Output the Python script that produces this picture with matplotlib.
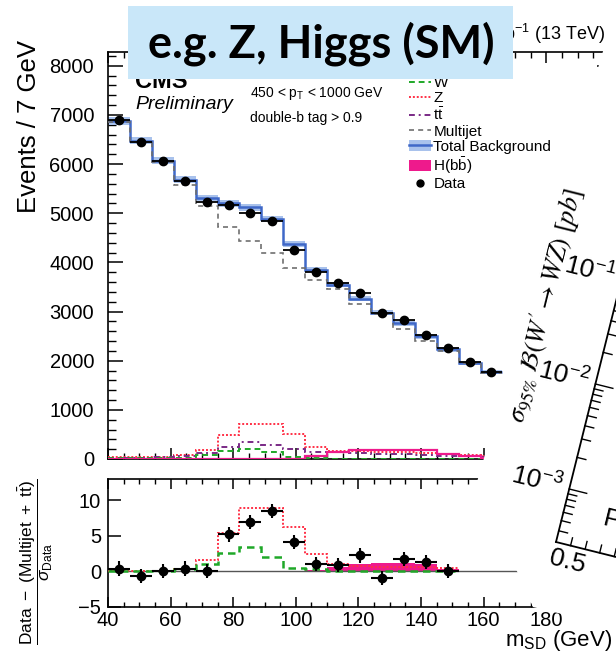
import numpy as np
import matplotlib
matplotlib.use("Agg")
import matplotlib.pyplot as plt
from matplotlib.lines import Line2D
from matplotlib.patches import Patch, Polygon, Rectangle
from matplotlib.ticker import MultipleLocator

plt.rcParams['font.family'] = ['Liberation Sans', 'DejaVu Sans']
plt.rcParams['mathtext.fontset'] = 'custom'
plt.rcParams['mathtext.rm'] = 'Liberation Sans'
plt.rcParams['mathtext.it'] = 'Liberation Sans:italic'
plt.rcParams['mathtext.bf'] = 'Liberation Sans:bold'

# ---------------- data ----------------
bin_width = 7.0
x_lo = 40.0
x_hi = 201.0

data_upper = [6900, 6440, 6065, 5665, 5220, 5165, 5005, 4850, 4260, 3800,
              3585, 3380, 2975, 2825, 2530, 2250, 1975, 1770]
total_bkg = [6875, 6475, 6070, 5680, 5310, 5205, 5125, 4880, 4375, 3855,
             3550, 3260, 2975, 2760, 2500, 2230, 1960, 1770]
total_unc = [80, 75, 70, 70, 70, 70, 70, 65, 65, 60,
             55, 55, 50, 50, 50, 45, 40, 40]
multijet = [6850, 6455, 6045, 5580, 5140, 4720, 4430, 4195, 3890, 3640,
            3450, 3145, 2945, 2640, 2400, 2200, 1945, 1750]
w_upper = [15, 15, 20, 25, 80, 160, 200, 150, 40, 15,
           10, 10, 10, 10, 10, 10, 10, 10]
z_upper = [40, 40, 50, 90, 190, 480, 720, 720, 500, 240,
           170, 160, 150, 140, 130, 100, 80, 70]
tt_upper = [30, 30, 40, 60, 120, 250, 350, 280, 200, 150,
            140, 130, 110, 100, 90, 70, 60, 50]
h_upper = [0, 0, 0, 0, 0, 0, 0, 0, 10, 60,
           150, 185, 190, 190, 175, 110, 60, 30]

data_ratio = [0.4, -0.6, 0.1, 0.4, 0.1, 5.2, 7.0, 8.5, 4.1, 1.0,
              0.95, 2.25, -0.95, 1.8, 1.3, 0.1]
z_ratio = [0.1, 0.1, 0.1, 0.4, 1.65, 5.4, 8.9, 8.9, 6.2, 2.4,
           1.0, 0.7, 0.6, 0.6, 0.6, 0.5]
w_ratio = [0.1, 0.1, 0.1, 0.3, 1.0, 2.6, 3.5, 2.0, 0.5, 0.3,
           0.1, 0.1, 0.1, 0.1, 0.1, 0.1]
h_ratio = [0, 0, 0, 0, 0, 0, 0, 0, 0.05, 0.25,
           0.6, 1.1, 1.2, 1.15, 1.0, 0.4]

upper_ticks = [0, 1000, 2000, 3000, 4000, 5000, 6000, 7000, 8000]
ratio_ticks = [-5, 0, 5, 10]
mass_ticks = [40, 60, 80, 100, 120, 140, 160, 180]

legend_labels = ["W", "Z", r"t$\mathrm{\bar{t}}$", "Multijet",
                 "Total Background", r"H(b$\mathrm{\bar{b}}$)", "Data"]

# other (rotated) plot decoration
rot_major = [1e-3, 1e-2, 1e-1]
rot_major_labels = [r"$10^{-3}$", r"$10^{-2}$", r"$10^{-1}$"]
rot_minor = [k * 10.0 ** e for e in (-4, -3, -2) for k in range(2, 10)]
rot_x_minor = [0.6, 0.7, 0.8, 0.9]

# ---------------- colours ----------------
c_w = '#1fa828'
c_z = '#ff3046'
c_tt = '#7a2a86'
c_mj = '#6f6f6f'
c_tot = '#3f68c8'
c_band = '#a9c2ec'
c_h = '#ee1a8c'

W, H = 616, 663
fig = plt.figure(figsize=(W / 100, H / 100), dpi=100)
fig.patch.set_facecolor('white')


def fx(px):
    return px / W


def fy(py):
    return 1 - py / H


ax1 = fig.add_axes([fx(108), fy(459), fx(612) - fx(108), fy(52) - fy(459)])
ax2 = fig.add_axes([fx(108), fy(607), fx(612) - fx(108), fy(479) - fy(607)])

n_up = len(data_upper)
edges_up = x_lo + bin_width * np.arange(n_up + 1)
cent_up = edges_up[:-1] + bin_width / 2
n_lo = len(data_ratio)
edges_lo = x_lo + bin_width * np.arange(n_lo + 1)
cent_lo = edges_lo[:-1] + bin_width / 2

tot = np.array(total_bkg, float)
unc = np.array(total_unc, float)

# ---- upper panel ----
ax1.stairs(tot + unc, edges_up, baseline=tot - unc, fill=True, color=c_band, lw=0, zorder=2)
ax1.stairs(tot, edges_up, color=c_tot, lw=1.8, zorder=3, baseline=None)
ax1.stairs(multijet, edges_up, color=c_mj, lw=1.2, ls=(0, (3, 2.5)), zorder=3, baseline=None)
ax1.stairs(z_upper, edges_up, color=c_z, lw=1.4, ls=(0, (1, 1)), zorder=3, baseline=None)
ax1.stairs(tt_upper, edges_up, color=c_tt, lw=1.4, ls=(0, (3, 2, 1, 2)), zorder=3, baseline=None)
ax1.stairs(w_upper, edges_up, color=c_w, lw=1.4, ls=(0, (3, 2)), zorder=3, baseline=None)
ax1.stairs(h_upper, edges_up, color=c_h, lw=1.6, zorder=3, baseline=None)
ax1.errorbar(cent_up, data_upper, yerr=np.sqrt(data_upper), xerr=bin_width / 2,
             fmt='o', color='black', ms=6, elinewidth=1.3, capsize=0, zorder=5)

ax1.set_xlim(x_lo, x_hi)
ax1.set_ylim(0, 8280)
ax1.set_yticks(upper_ticks)
ax1.yaxis.set_minor_locator(MultipleLocator(200))
ax1.set_xticks(mass_ticks)
ax1.xaxis.set_minor_locator(MultipleLocator(5))
ax1.tick_params(axis='both', which='both', direction='in', top=True, right=True,
                labelbottom=False)
ax1.tick_params(axis='y', which='major', length=10.5, width=1.1, labelsize=14.5, pad=10)
ax1.tick_params(axis='y', which='minor', length=5.5, width=1.0)
ax1.tick_params(axis='x', which='major', length=8, width=1.1)
ax1.tick_params(axis='x', which='minor', length=4, width=1.0)
for s in ax1.spines.values():
    s.set_linewidth(1.2)

# legend
handles = [
    Line2D([], [], color=c_w, lw=1.4, ls=(0, (3, 2))),
    Line2D([], [], color=c_z, lw=1.4, ls=(0, (1, 1))),
    Line2D([], [], color=c_tt, lw=1.4, ls=(0, (3, 2, 1, 2))),
    Line2D([], [], color=c_mj, lw=1.2, ls=(0, (3, 2.5))),
    (Patch(facecolor=c_band, edgecolor='none'), Line2D([], [], color=c_tot, lw=1.8)),
    Patch(facecolor=c_h, edgecolor='none'),
    Line2D([], [], color='black', marker='o', ms=5, ls='none'),
]
ax1.legend(handles, legend_labels, loc='upper left',
           bbox_to_anchor=(fx(409), fy(76)), bbox_transform=fig.transFigure,
           frameon=False, fontsize=11, handlelength=1.45, handletextpad=0.15,
           labelspacing=0.08, borderpad=0, borderaxespad=0)

# ---- lower panel ----
ax2.stairs(h_ratio, edges_lo, fill=True, color=c_h, lw=0, zorder=2)
ax2.axhline(0, color='#555555', lw=1.0, zorder=2)
ax2.stairs(z_ratio, edges_lo, color=c_z, lw=1.4, ls=(0, (1, 1)), zorder=3, baseline=None)
ax2.stairs(w_ratio, edges_lo, color=c_w, lw=1.8, ls=(0, (3, 2)), zorder=3, baseline=None)
ax2.errorbar(cent_lo, data_ratio, yerr=1.0, xerr=bin_width / 2,
             fmt='o', color='black', ms=6, elinewidth=1.5, capsize=0, zorder=5)
ax2.set_xlim(x_lo, x_hi)
ax2.set_ylim(-5, 13)
ax2.set_yticks(ratio_ticks)
ax2.set_yticklabels(['\u22125', '0', '5', '10'])
ax2.set_xticks(mass_ticks)
ax2.xaxis.set_minor_locator(MultipleLocator(5))
ax2.tick_params(axis='both', which='both', direction='in', top=True, right=True)
ax2.tick_params(axis='y', which='major', length=9, width=1.1, labelsize=14.5, pad=5)
ax2.tick_params(axis='x', which='major', length=7, width=1.1, labelsize=14.5, pad=3)
ax2.tick_params(axis='x', which='minor', length=3.5, width=1.0)
for s in ax2.spines.values():
    s.set_linewidth(1.2)

# ---------------- overlay (slide elements) ----------------
ov = fig.add_axes([0, 0, 1, 1])
ov.set_xlim(0, W)
ov.set_ylim(H, 0)
ov.axis('off')
ov.set_zorder(10)
ov.patch.set_alpha(0)

# CMS texts
ov.text(135, 88, "CMS", fontsize=17, fontweight='bold', va='baseline', ha='left', zorder=1)
ov.text(135, 109, "Preliminary", fontsize=14, fontstyle='italic', va='baseline', ha='left', zorder=1)
ov.text(250, 97, r"450 < p$_\mathrm{T}$ < 1000 GeV", fontsize=10, va='baseline', ha='left', zorder=1)
ov.text(250, 122, "double-b tag > 0.9", fontsize=10, va='baseline', ha='left', zorder=1)
ov.text(605, 40, r"35.9 fb$^{-1}$ (13 TeV)", fontsize=13, va='baseline', ha='right', zorder=1)
ov.text(29, 40, "Events / 7 GeV", fontsize=18.5, rotation=90, ha='center', va='top', zorder=1)
ov.text(36, 562, r"$\dfrac{\mathrm{Data\ -\ (Multijet\ +\ t\bar{t})}}{\sigma_{\mathrm{Data}}}$",
        fontsize=12.5, rotation=90, ha='center', va='center', zorder=1)

# white page of the second (rotated) plot
ov.add_patch(Polygon([(618, 0), (620, 0), (620, 628), (533, 607), (477, 482)],
                     closed=True, facecolor='white', edgecolor='none', zorder=2))

ang = np.deg2rad(14)
tn = np.tan(ang)
nvec = np.array([np.cos(ang), np.sin(ang)])
uvec = np.array([np.sin(ang), -np.cos(ang)])
corner = np.array([556.0, 542.0])


def spine_pt(v):
    y = 489 - (np.log10(v) + 3) * 105
    return np.array([corner[0] + tn * (corner[1] - y), y])


top_pt = np.array([corner[0] + tn * (corner[1] - 250), 250])
ov.plot([corner[0], top_pt[0]], [corner[1], top_pt[1]], color='black', lw=1.3, zorder=3)
bot_end = corner + 80 * nvec
ov.plot([corner[0], bot_end[0]], [corner[1], bot_end[1]], color='black', lw=1.3, zorder=3)
for v in rot_minor:
    p = spine_pt(v)
    if 262 < p[1] < corner[1] - 2:
        q = p + 9 * nvec
        ov.plot([p[0], q[0]], [p[1], q[1]], color='black', lw=1.0, zorder=3)
for v, lab in zip(rot_major, rot_major_labels):
    p = spine_pt(v)
    q = p + 18 * nvec
    ov.plot([p[0], q[0]], [p[1], q[1]], color='black', lw=1.0, zorder=3)
    lp = p - 33 * nvec
    ov.text(lp[0], lp[1], lab, fontsize=19, rotation=-14, ha='center', va='center', zorder=3)
for xv in rot_x_minor:
    p = corner + (xv - 0.5) * 150 * nvec
    q = p + 8 * uvec
    ov.plot([p[0], q[0]], [p[1], q[1]], color='black', lw=1.0, zorder=3)
ov.text(567, 562, "0.5", fontsize=19, rotation=-14, ha='center', va='center', zorder=3)
ov.text(612, 520, "P", fontsize=19, rotation=-14, ha='center', va='center', zorder=3)
ov.text(546, 306, r"$\sigma_{95\%}\ \mathcal{B}(W' \rightarrow WZ)\ [pb]$", fontsize=19,
        rotation=76, ha='center', va='center', zorder=3, math_fontfamily='stix')

# x-axis title of the CMS plot
ov.text(612, 646, r"m$_\mathrm{SD}$ (GeV)", fontsize=16, ha='right', va='baseline', zorder=4)

# slide label box
ov.add_patch(Rectangle((128, 6), 385, 73, facecolor='#c9e7f9', edgecolor='none', zorder=5))
ov.text(321, 58, "e.g. Z, Higgs (SM)", fontsize=32.5, fontweight='bold', family=['Lato', 'DejaVu Sans'],
        ha='center', va='baseline', color='black', zorder=6)

fig.savefig("out.png", dpi=100)
